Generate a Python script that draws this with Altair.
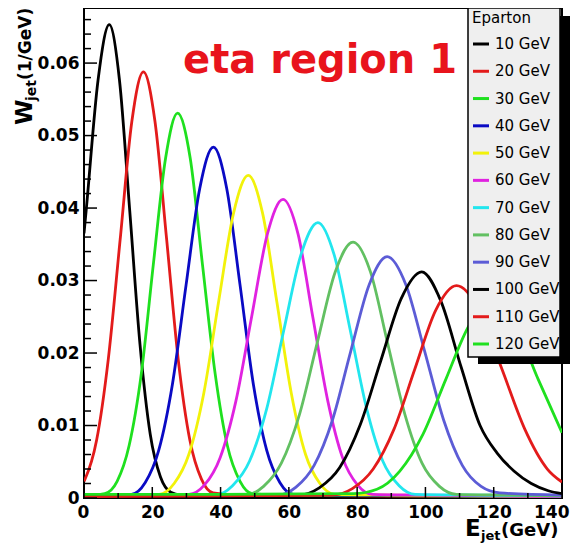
import altair as alt
import pandas as pd

# ---------------- data ----------------
energies = [10, 20, 30, 40, 50, 60, 70, 80, 90, 100, 110, 120]
labels = [f"{e} GeV" for e in energies]
colors = ["#000000", "#e31b1b", "#1fe01f", "#0a0ac4", "#f2f20a", "#e022e0",
          "#22e6ee", "#62c062", "#5c5cd6", "#000000", "#e31b1b", "#1fe01f"]

x_10 = [0, 0.7, 4.1, 7.4, 10.4, 13.4, 16.4, 19.4, 22.4, 25.4, 28.4, 35, 70, 140]
w_10 = [0.0365, 0.0400, 0.0576, 0.0653, 0.0576, 0.0396, 0.0212, 0.0088, 0.0029, 0.0008, 0.0004, 0.0003, 0.0002, 0.0001]

x_20 = [0, 0.3, 3.7, 7.1, 10.6, 14.0, 17.4, 20.8, 24.2, 27.6, 31.0, 34.4, 37.8, 45, 80, 140]
w_20 = [0.0023, 0.0026, 0.0080, 0.0191, 0.0357, 0.0519, 0.0588, 0.0519, 0.0357, 0.0191, 0.0080, 0.0026, 0.0007, 0.0004, 0.0003, 0.0002]

x_30 = [0, 2.6, 6.1, 9.7, 13.2, 16.8, 20.3, 23.9, 27.4, 31.1, 34.7, 38.4, 42.0, 45.7, 49.3, 60, 100, 140]
w_30 = [0.0004, 0.0004, 0.0006, 0.0023, 0.0072, 0.0172, 0.0322, 0.0469, 0.0531, 0.0469, 0.0322, 0.0172, 0.0072, 0.0023, 0.0006, 0.0004, 0.0003, 0.0002]

x_40 = [0, 13.9, 17.9, 21.9, 25.9, 29.9, 33.9, 37.9, 41.8, 45.7, 49.6, 53.5, 57.4, 61.3, 75, 140]
w_40 = [0.0003, 0.0005, 0.0021, 0.0066, 0.0157, 0.0294, 0.0427, 0.0484, 0.0427, 0.0294, 0.0157, 0.0066, 0.0021, 0.0005, 0.0004, 0.0002]

x_50 = [0, 22.0, 26.4, 30.7, 35.1, 39.4, 43.8, 48.1, 52.3, 56.5, 60.7, 64.9, 69.1, 73.3, 90, 140]
w_50 = [0.0003, 0.0005, 0.0020, 0.0060, 0.0145, 0.0270, 0.0393, 0.0445, 0.0393, 0.0270, 0.0145, 0.0060, 0.0020, 0.0005, 0.0004, 0.0002]

x_60 = [0, 30.7, 35.3, 39.9, 44.5, 49.1, 53.7, 58.3, 62.7, 67.0, 71.4, 75.7, 80.1, 84.4, 100, 140]
w_60 = [0.0003, 0.0005, 0.0018, 0.0056, 0.0134, 0.0250, 0.0364, 0.0412, 0.0364, 0.0250, 0.0134, 0.0056, 0.0018, 0.0005, 0.0004, 0.0002]

x_70 = [0, 38.5, 43.5, 48.5, 53.5, 58.5, 63.5, 68.5, 73.3, 78.0, 82.8, 87.5, 92.3, 97.0, 115, 140]
w_70 = [0.0003, 0.0004, 0.0017, 0.0051, 0.0123, 0.0231, 0.0335, 0.0380, 0.0335, 0.0231, 0.0123, 0.0051, 0.0017, 0.0005, 0.0004, 0.0003]

x_80 = [0, 47.3, 52.6, 57.8, 63.1, 68.3, 73.6, 78.8, 83.9, 88.9, 94.0, 99.0, 104.1, 109.1, 125, 140]
w_80 = [0.0003, 0.0004, 0.0016, 0.0048, 0.0115, 0.0214, 0.0312, 0.0353, 0.0312, 0.0214, 0.0115, 0.0048, 0.0016, 0.0005, 0.0004, 0.0003]

x_90 = [0, 56.7, 62.1, 67.4, 72.8, 78.1, 83.5, 88.8, 94.3, 99.8, 105.3, 110.8, 116.3, 121.8, 140]
w_90 = [0.0003, 0.0004, 0.0015, 0.0045, 0.0108, 0.0202, 0.0294, 0.0333, 0.0294, 0.0202, 0.0108, 0.0045, 0.0016, 0.0007, 0.0004]

x_100 = [0, 62.9, 68.9, 74.9, 80.9, 86.9, 92.9, 98.9, 104.5, 110.5, 116.0, 121.0, 126.0, 131.0, 136.0, 140]
w_100 = [0.0003, 0.0004, 0.0014, 0.0042, 0.0101, 0.0189, 0.0275, 0.0312, 0.0272, 0.0180, 0.0100, 0.0062, 0.0037, 0.0020, 0.0010, 0.0006]

x_110 = [0, 40, 72.5, 78.6, 84.7, 90.8, 96.9, 103.0, 109.1, 115.8, 122.4, 129.1, 135.7, 140]
w_110 = [0.0002, 0.0003, 0.0004, 0.0013, 0.0040, 0.0095, 0.0178, 0.0259, 0.0293, 0.0259, 0.0178, 0.0095, 0.0040, 0.0022]

x_120 = [0, 40, 79.0, 85.8, 92.5, 99.3, 106.0, 112.8, 119.5, 126.3, 133.0, 140]
w_120 = [0.0005, 0.0005, 0.0006, 0.0012, 0.0037, 0.0088, 0.0164, 0.0238, 0.0270, 0.0238, 0.0164, 0.0090]

x_ticks_major = [0, 20, 40, 60, 80, 100, 120, 140]
x_ticks_minor = [10, 30, 50, 70, 90, 110, 130]
y_ticks_major = [0, 0.01, 0.02, 0.03, 0.04, 0.05, 0.06]
y_ticks_minor = [0.002, 0.004, 0.006, 0.008, 0.012, 0.014, 0.016, 0.018,
                 0.022, 0.024, 0.026, 0.028, 0.032, 0.034, 0.036, 0.038,
                 0.042, 0.044, 0.046, 0.048, 0.052, 0.054, 0.056, 0.058,
                 0.062, 0.064, 0.066]

x_domain = [0, 140]
y_domain = [0, 0.0676]

# ---------------- build tables ----------------
xs_all = [x_10, x_20, x_30, x_40, x_50, x_60, x_70, x_80, x_90, x_100, x_110, x_120]
ws_all = [w_10, w_20, w_30, w_40, w_50, w_60, w_70, w_80, w_90, w_100, w_110, w_120]
curves = pd.concat(
    [pd.DataFrame({"E": xv, "W": wv, "label": lab}) for xv, wv, lab in zip(xs_all, ws_all, labels)],
    ignore_index=True,
)
leg_df = pd.DataFrame({"label": labels})

W, H = 478, 490
FONT = "DejaVu Sans"

xs = alt.Scale(domain=x_domain, nice=False, zero=False)
ys = alt.Scale(domain=y_domain, nice=False, zero=False)
cs = alt.Scale(domain=labels, range=colors)
leg_scale = alt.Scale(type="point", domain=labels, range=[36, 336], padding=0)

x_axis = alt.Axis(
    values=x_ticks_major, title=None, grid=False, ticks=False, tickSize=0, domain=False,
    labelFont=FONT, labelFontSize=17, labelFontWeight="bold", labelColor="black",
    labelPadding=6, labelFlush=True, labelFlushOffset=7,
)
y_axis = alt.Axis(
    values=y_ticks_major, format=".2~f", title=None, grid=False, ticks=False, tickSize=0,
    domain=False, labelFont=FONT, labelFontSize=17, labelFontWeight="bold",
    labelColor="black", labelPadding=5, labelFlush=False,
)

lines = alt.Chart(curves).mark_line(strokeWidth=2.8, interpolate="monotone", clip=True).encode(
    x=alt.X("E:Q", scale=xs, axis=x_axis),
    y=alt.Y("W:Q", scale=ys, axis=y_axis),
    color=alt.Color("label:N", scale=cs, legend=None),
)

ytick_major = alt.Chart(pd.DataFrame({"v": y_ticks_major})).mark_rule(color="black", strokeWidth=1.5).encode(
    y=alt.Y("v:Q", scale=ys, axis=None), x=alt.value(0), x2=alt.value(13))
ytick_minor = alt.Chart(pd.DataFrame({"v": y_ticks_minor})).mark_rule(color="black", strokeWidth=1.5).encode(
    y=alt.Y("v:Q", scale=ys, axis=None), x=alt.value(0), x2=alt.value(7))
xtick_major = alt.Chart(pd.DataFrame({"v": x_ticks_major})).mark_rule(color="black", strokeWidth=1.5).encode(
    x=alt.X("v:Q", scale=xs, axis=x_axis), y=alt.value(H), y2=alt.value(H - 11))
xtick_minor = alt.Chart(pd.DataFrame({"v": x_ticks_minor})).mark_rule(color="black", strokeWidth=1.5).encode(
    x=alt.X("v:Q", scale=xs, axis=x_axis), y=alt.value(H), y2=alt.value(H - 5))

one = pd.DataFrame({"k": [0]})

def txt(s, x, y, size, weight="bold", color="black", angle=0, align="left", baseline="alphabetic"):
    return alt.Chart(one).mark_text(
        text=s, font=FONT, fontSize=size, fontWeight=weight, color=color,
        angle=angle, align=align, baseline=baseline,
    ).encode(x=alt.value(x), y=alt.value(y))

title = txt("eta region 1", 99, 65, 40, color="#e8141c")

ytitle = (txt("W", -52, 117, 23, angle=270)
          + txt("jet", -48, 93, 14, angle=270)
          + txt("(1/GeV)", -53, 72, 17, angle=270))
xtitle = (txt("E", 381, 528, 23)
          + txt("jet", 397, 532, 13)
          + txt("(GeV)", 417, 528, 18))

shadow = alt.Chart(one).mark_rect(color="black").encode(
    x=alt.value(394), x2=alt.value(486), y=alt.value(8), y2=alt.value(356))
box = alt.Chart(one).mark_rect(fill="#efefef", stroke="black", strokeWidth=1.5).encode(
    x=alt.value(384), x2=alt.value(476), y=alt.value(0), y2=alt.value(349))
leg_title = txt("Eparton", 388, 15, 15, weight="normal")
leg_lines = alt.Chart(leg_df).mark_rule(strokeWidth=3).encode(
    y=alt.Y("label:N", scale=leg_scale, axis=None),
    x=alt.value(389), x2=alt.value(405),
    color=alt.Color("label:N", scale=cs, legend=None),
)
leg_text = alt.Chart(leg_df).mark_text(align="left", baseline="middle", font=FONT, fontSize=15,
                                       color="black").encode(
    y=alt.Y("label:N", scale=leg_scale, axis=None),
    x=alt.value(411),
    text="label:N",
)

chart = alt.layer(
    lines, ytick_major, ytick_minor, xtick_major, xtick_minor,
    title, ytitle, xtitle,
    shadow, box, leg_title, leg_lines, leg_text,
).resolve_scale(y="independent").properties(
    width=W, height=H,
    autosize=alt.AutoSizeParams(type="none"),
    padding={"left": 76, "top": 0, "right": 10, "bottom": 46},
    background="white",
).configure_view(stroke="black", strokeWidth=2)

chart.save("out.html", embed_options={"renderer": "svg", "actions": False})
